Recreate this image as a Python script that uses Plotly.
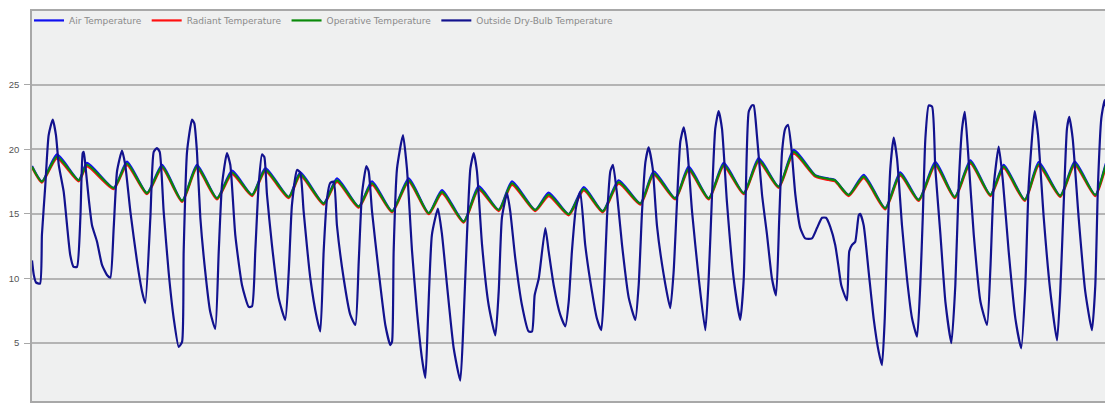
import plotly.graph_objects as go

# ---- data (hours from start of period) ----
outside_hours = [0, 1.2, 2.7, 5.5, 6.8, 9.1, 11.4, 14.2, 16.4, 18.3, 21.7, 24.0, 26.2, 28.5, 30.8,
                 33.1, 34.7, 35.4, 36.5, 38.8, 41.1, 44.5, 47.9, 51.3, 53.6, 55.9, 58.2, 61.6, 63.8,
                 67.3, 71.9, 75.3, 77.5, 81.0, 83.3, 85.5, 87.4, 90.1, 93.5, 97.0, 100.4, 102.7,
                 103.8, 106.1, 109.5, 111.1, 112.9, 115.2, 118.6, 122.0, 125.4, 127.8, 130.0, 133.4,
                 135.7, 139.1, 143.7, 148.3, 150.6, 152.8, 155.1, 157.4, 159.0, 160.8, 164.2, 168.8,
                 173.3, 175.7, 177.9, 181.4, 183.6, 185.9, 190.5, 195.0, 197.3, 199.6, 201.9, 204.1,
                 206.5, 208.7, 213.3, 217.8, 221.3, 223.6, 225.8, 228.8, 230.4, 232.7, 237.3, 241.8,
                 245.2, 246.4, 247.5, 249.8, 253.9, 256.6, 260.1, 263.5, 266.9, 269.2, 271.0, 273.7,
                 277.8, 280.6, 284.0, 288.6, 293.1, 295.4, 297.7, 300.0, 302.3, 304.5, 308.0, 312.5,
                 317.1, 319.4, 321.6, 325.1, 327.3, 330.7, 335.3, 339.9, 342.2, 344.0, 346.8, 351.3,
                 353.6, 357.0, 361.5, 365.0, 367.3, 369.5, 372.3, 375.2, 378.6, 383.2, 386.6, 389.6,
                 391.6, 393.5, 395.8, 397.6, 400.4, 403.8, 408.4, 412.9, 415.2, 417.5, 419.8, 422.0,
                 424.8, 427.7, 432.3, 436.8, 439.1, 441.4, 443.7, 446.0, 448.3, 451.7, 456.3, 460.8,
                 463.1, 465.4, 467.6, 469.9, 472.2, 475.6, 480.2, 484.7, 487.1, 488.6, 490.5, 492.7,
                 493.9, 496.1, 499.6, 503.0, 506.4, 509.2, 511.4, 513.3, 515.5, 517.4, 519.6, 522.4,
                 525.8, 529.2, 533.8, 537.2, 540.7, 543.4, 546.3, 549.7, 552.1, 553.8, 557.7, 559.3,
                 561.2, 563.4, 565.8, 566.8, 569.2, 572.6, 576.0, 579.5, 581.7, 583.6, 585.1, 587.4,
                 589.7, 592.0, 595.4, 598.8, 602.3, 605.7, 607.9, 609.6, 611.4, 613.7, 616.0, 618.2,
                 621.7, 625.1, 629.2, 631.9, 634.2, 636.5, 638.4, 640.6, 644.5, 649.1, 653.6, 655.9,
                 658.2, 661.6, 664.4, 668.4, 673.0, 677.0, 679.8, 682.1, 686.2, 688.5, 692.4, 696.9,
                 701.5, 703.7, 706.1, 708.3, 709.9, 712.2, 716.3, 720.8, 725.4, 727.7, 729.5, 731.8,
                 734.1, 736.4, 739.1, 740.5]
outside_temp = [11.4, 10.3, 9.7, 9.6, 13.4, 17.2, 21.1, 22.3, 21.1, 18.8, 16.7, 14.1, 11.8, 10.9, 10.9,
                14.7, 19.7, 19.8, 18.8, 16.2, 14.1, 12.85, 11.05, 10.27, 10.06, 13.9, 18.3, 19.9, 18.8,
                15.2, 11.3, 9.0, 8.1, 14.7, 19.8, 20.1, 19.8, 15.2, 10.5, 6.9, 4.7, 5.1,
                12.1, 19.8, 22.3, 22.0, 19.8, 14.7, 10.5, 7.4, 6.1, 12.1, 17.2, 19.7,
                18.8, 13.4, 9.5, 7.8, 7.85, 12.1, 17.2, 19.6, 19.4, 16.5, 12.6, 8.5,
                6.8, 10.5, 15.7, 18.4, 18.2, 15.2, 10.0, 6.9, 5.9, 12.1, 16.2, 17.4,
                17.5, 14.1, 10.0, 7.2, 6.4, 11.3, 16.5, 18.7, 18.3, 15.2, 10.5, 6.4,
                4.85, 5.1, 12.1, 18.5, 21.1, 18.5, 12.1, 7.4, 3.8, 2.3, 6.9, 13.4,
                15.4, 13.4, 9.5, 4.6, 2.1, 6.9, 13.4, 18.5, 19.7, 18.3, 12.6, 7.95,
                5.6, 9.0, 14.7, 16.6, 15.2, 11.6, 7.95, 5.9, 5.9, 8.7, 10.0, 13.9,
                12.1, 9.5, 7.2, 6.3, 8.2, 12.1, 15.5, 16.7, 12.6, 9.0, 6.9, 6.0,
                9.5, 14.7, 18.3, 18.8, 16.5, 12.6, 8.5, 6.8, 9.5, 15.2, 19.0, 20.15,
                18.5, 14.1, 10.3, 7.7, 10.5, 15.9, 20.6, 21.7, 20.2, 15.2, 10.0, 6.0,
                10.0, 16.5, 21.6, 22.96, 21.6, 15.9, 10.0, 6.8, 10.0, 17.2, 22.9, 23.4,
                23.4, 21.1, 16.5, 13.4, 10.0, 8.7, 14.7, 19.8, 21.6, 21.9, 20.2, 16.5,
                13.9, 13.1, 13.1, 13.9, 14.7, 14.7, 14.0, 12.6, 10.8, 9.5, 8.3, 12.1,
                12.6, 12.85, 14.9, 15.0, 14.1, 10.5, 6.9, 4.3, 3.3, 6.9, 12.1, 18.5,
                20.9, 19.3, 14.1, 10.0, 6.9, 5.5, 9.5, 14.7, 20.85, 23.4, 23.3, 18.5,
                13.4, 8.2, 5.0, 9.5, 17.2, 21.6, 22.9, 19.8, 13.4, 8.2, 6.4, 10.8,
                17.2, 20.2, 17.6, 12.1, 6.9, 4.6, 9.5, 17.2, 22.96, 21.1, 14.7, 9.0,
                5.2, 9.0, 15.9, 21.6, 22.5, 20.85, 14.7, 9.0, 6.0, 9.5, 17.2, 22.4,
                23.8, 21.9, 16.5, 14.0]

indoor_hours = [0, 6.8, 17.1, 32.0, 37.6, 55.9, 65.0, 78.7, 89.0, 102.7, 112.9, 126.6, 136.9, 150.6,
                159.7, 175.7, 183.6, 199.6, 208.7, 223.6, 232.7, 246.4, 257.8, 271.5, 280.6, 295.4,
                305.7, 319.4, 328.5, 344.4, 353.6, 367.3, 377.6, 390.6, 401.5, 416.3, 425.5, 440.2,
                449.4, 463.1, 473.4, 487.1, 497.3, 511.0, 521.3, 536.0, 545.2, 549.5, 558.9, 569.2,
                583.9, 594.2, 606.8, 618.2, 631.5, 642.2, 655.9, 665.0, 679.4, 689.0, 703.7, 713.6,
                727.7, 736.8, 739.8]
operative_temp = [18.65, 17.5, 19.43, 17.6, 18.8, 17.0, 18.9, 16.6, 18.65, 16.0, 18.65, 16.2, 18.2, 16.46,
                  18.4, 16.3, 18.07, 15.8, 17.6, 15.56, 17.37, 15.2, 17.6, 15.05, 16.7, 14.4, 17.0, 15.3,
                  17.37, 15.3, 16.5, 14.97, 16.93, 15.2, 17.45, 15.8, 18.14, 16.2, 18.5, 16.2, 18.8, 16.6,
                  19.17, 17.1, 19.8, 17.96, 17.7, 17.6, 16.46, 17.88, 15.43, 18.07, 16.08, 18.86, 16.3,
                  19.0, 16.46, 18.65, 16.08, 18.84, 16.4, 18.9, 16.46, 19.3, 19.2]
air_temp = [18.7, 17.52, 19.6, 17.62, 18.95, 17.02, 19.05, 16.62, 18.8, 16.02, 18.8, 16.22, 18.35, 16.48,
            18.55, 16.32, 18.22, 15.82, 17.75, 15.58, 17.52, 15.22, 17.75, 15.07, 16.85, 14.42, 17.15, 15.32,
            17.52, 15.32, 16.65, 14.99, 17.08, 15.22, 17.6, 15.82, 18.3, 16.22, 18.65, 16.22, 18.95, 16.62,
            19.32, 17.12, 19.95, 18.0, 17.74, 17.63, 16.48, 18.03, 15.45, 18.22, 16.1, 19.02, 16.32,
            19.15, 16.48, 18.8, 16.1, 19.0, 16.42, 19.05, 16.48, 19.45, 19.4]
radiant_temp = [18.6, 17.42, 19.3, 17.52, 18.68, 16.92, 18.78, 16.52, 18.53, 15.92, 18.53, 16.12, 18.08, 16.38,
                18.28, 16.22, 17.95, 15.72, 17.48, 15.48, 17.25, 15.12, 17.48, 14.97, 16.58, 14.32, 16.88, 15.22,
                17.25, 15.22, 16.38, 14.89, 16.81, 15.12, 17.33, 15.72, 18.02, 16.12, 18.38, 16.12, 18.68, 16.52,
                19.05, 17.02, 19.65, 17.88, 17.62, 17.52, 16.38, 17.76, 15.35, 17.95, 16.0, 18.74, 16.22,
                18.88, 16.38, 18.53, 16.0, 18.72, 16.32, 18.78, 16.38, 19.1, 18.6]

y_ticks = [5, 10, 15, 20, 25]

fig = go.Figure()
fig.add_trace(go.Scatter(x=indoor_hours, y=air_temp, mode="lines", name="Air Temperature",
                         line=dict(color="#1010f0", width=2.2, shape="spline", smoothing=0.6)))
fig.add_trace(go.Scatter(x=indoor_hours, y=radiant_temp, mode="lines", name="Radiant Temperature",
                         line=dict(color="#ff1010", width=2.2, shape="spline", smoothing=0.6)))
fig.add_trace(go.Scatter(x=indoor_hours, y=operative_temp, mode="lines", name="Operative Temperature",
                         line=dict(color="#0a8a0a", width=2.2, shape="spline", smoothing=0.6)))
fig.add_trace(go.Scatter(x=outside_hours, y=outside_temp, mode="lines", name="Outside Dry-Bulb Temperature",
                         line=dict(color="#12128e", width=2.2, shape="spline", smoothing=0.5)))

# page body has an 8px default margin; size the figure so the visible part matches
fig.update_layout(
    width=1105, height=395,
    margin=dict(l=24, r=0, t=3, b=2, autoexpand=False),
    paper_bgcolor="white",
    plot_bgcolor="#eff0f0",
    font=dict(family="DejaVu Sans", size=10, color="#555555"),
    showlegend=True,
    legend=dict(orientation="h", xref="container", yref="paper", x=0.019, y=1.013,
                xanchor="left", yanchor="top",
                bgcolor="rgba(0,0,0,0)", font=dict(size=9, color="#8a8a8a"),
                itemwidth=30, tracegroupgap=0),
)
fig.update_xaxes(range=[0, 739.8], showticklabels=False, showgrid=False, zeroline=False,
                 showline=True, mirror=True, linecolor="#a8a8a8", linewidth=2, ticks="")
fig.update_yaxes(range=[0.52, 30.7], tickvals=y_ticks, showgrid=True, gridcolor="#b4b4b4",
                 gridwidth=1.5, zeroline=False, showline=True, linecolor="#a8a8a8", linewidth=1.5,
                 ticks="outside", ticklen=6, tickcolor="#a8a8a8", automargin=False,
                 ticklabelstandoff=3,
                 tickfont=dict(family="Liberation Sans", size=9.5, color="#555555"))

fig.write_html("out.html")
